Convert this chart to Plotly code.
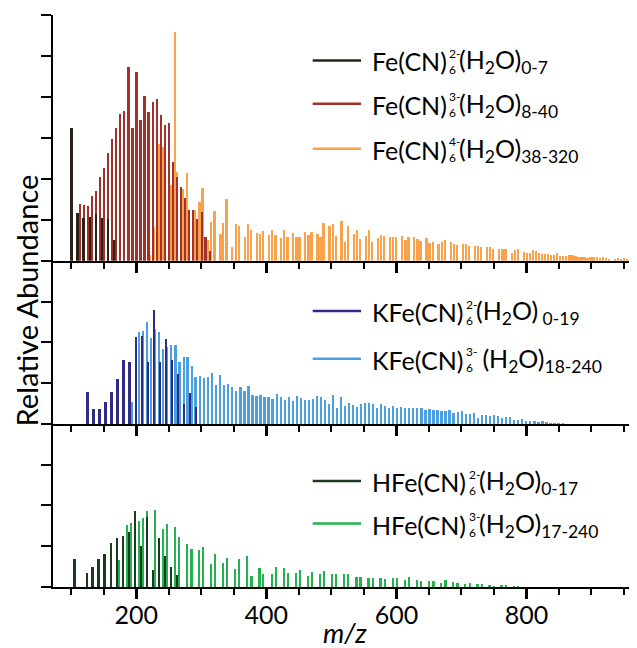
import plotly.graph_objects as go

# ---------------- data (m/z, relative abundance in tick units) ----------------
fe2_mz = [101.0, 110.2, 119.4, 129.2, 138.4, 147.6, 157.4, 166.6]
fe2_ab = [3.25, 1.17, 1.04, 1.07, 1.13, 1.05, 1.01, 0.50]

fe3_mz = [113.8, 120.0, 126.1, 132.3, 138.4, 144.6, 150.7, 157.4, 163.5, 169.7,
          175.8, 182.0, 188.7, 194.8, 201.0, 207.1, 213.3, 219.4, 226.1, 232.3,
          238.4, 244.6, 250.7, 256.9, 263.0, 269.2, 275.8, 282.0, 288.1, 294.3,
          301.0, 307.1, 313.3]
fe3_ab = [1.39, 1.37, 1.34, 1.57, 1.71, 2.04, 2.27, 2.63, 2.98, 3.24,
          3.59, 3.66, 4.74, 3.24, 4.62, 3.43, 4.03, 3.62, 3.87, 3.96,
          3.56, 3.32, 3.37, 2.41, 2.05, 1.79, 1.53, 1.23, 1.25, 1.02,
          1.20, 0.58, 0.23]

fe4_mz = [221.5, 227.1, 235.8, 241.5, 254.3, 260.0, 263.0, 272.3, 278.4, 291.2,
          297.4, 302.5, 311.2, 315.8, 320.5, 329.7, 334.3, 339.4, 348.1, 353.3,
          358.4, 367.1, 372.2, 376.9, 385.6, 390.2, 395.3, 404.6, 409.2, 414.3,
          423.0, 427.6, 432.8, 441.5, 446.6, 451.2, 460.0, 465.1, 469.7, 478.9,
          483.5, 488.1, 497.4, 502.5, 507.1, 515.8, 521.0, 525.6, 534.8, 539.4,
          544.0, 553.3, 557.9, 562.5, 571.7, 576.9, 581.5, 590.2, 595.3, 599.9,
          609.2, 614.3, 618.9, 627.6, 632.8, 637.4, 646.6, 651.2, 656.3, 665.1,
          670.2, 674.8, 684.0, 688.6, 693.3, 702.5, 707.6, 712.2, 721.0, 726.1,
          730.7, 739.9, 744.5, 749.2, 758.4, 763.6, 768.2, 777.9, 782.6, 787.7,
          796.9, 801.5, 806.1, 810.8, 815.4, 820.0, 824.6, 829.2, 833.8, 838.5,
          843.1, 847.7, 852.3, 856.9, 861.5, 866.7, 871.3, 875.9, 880.5, 885.1,
          889.7, 894.3, 899.0, 903.6, 908.7, 913.3, 917.9, 922.6, 927.2, 936.4,
          941.0, 945.6, 950.2, 954.9, 959.5, 964.1]
fe4_ab = [0.13, 0.83, 2.85, 2.78, 1.85, 5.58, 2.17, 1.75, 2.13, 1.24,
          1.44, 1.78, 0.50, 0.94, 1.21, 0.66, 0.92, 1.51, 0.33, 0.90,
          0.86, 0.57, 0.90, 0.74, 0.68, 0.65, 0.73, 0.62, 0.74, 0.63,
          0.56, 0.75, 0.59, 0.68, 0.57, 0.58, 0.70, 0.63, 0.70, 0.66,
          0.58, 0.93, 0.84, 0.89, 0.61, 0.98, 0.45, 0.85, 0.66, 0.74,
          0.54, 0.61, 0.74, 0.46, 0.56, 0.63, 0.60, 0.57, 0.57, 0.57,
          0.60, 0.50, 0.59, 0.57, 0.52, 0.47, 0.55, 0.44, 0.46, 0.41,
          0.45, 0.50, 0.46, 0.41, 0.39, 0.42, 0.42, 0.35, 0.37, 0.35,
          0.33, 0.34, 0.33, 0.29, 0.28, 0.28, 0.28, 0.20, 0.26, 0.28,
          0.22, 0.20, 0.20, 0.26, 0.23, 0.20, 0.17, 0.17, 0.16, 0.15,
          0.14, 0.20, 0.12, 0.12, 0.12, 0.15, 0.14, 0.12, 0.10, 0.10,
          0.10, 0.07, 0.10, 0.10, 0.08, 0.07, 0.09, 0.07, 0.03, 0.05,
          0.07, 0.05, 0.07, 0.05, 0.08, 0.04]

kfe2_mz = [125.6, 134.8, 144.0, 153.3, 162.5, 171.7, 181.0, 190.2, 199.9, 209.2,
           218.4, 227.6, 236.9, 246.1, 255.3, 264.6, 273.8, 283.0, 292.2]
kfe2_ab = [0.79, 0.38, 0.38, 0.54, 0.80, 1.11, 1.58, 1.52, 2.13, 2.16,
           1.52, 2.79, 1.52, 2.10, 1.58, 1.24, 0.50, 0.77, 0.43]

kfe3_mz = [193.3, 205.1, 211.2, 217.4, 223.5, 229.7, 235.8, 242.0, 248.1, 254.3,
           260.5, 267.1, 273.3, 279.4, 285.6, 291.7, 297.9, 304.6, 310.7, 316.9,
           323.0, 329.2, 335.3, 341.5, 347.6, 353.8, 360.5, 366.6, 372.8, 378.9,
           385.1, 391.2, 397.4, 403.5, 409.7, 416.3, 422.5, 428.7, 434.8, 441.0,
           447.1, 453.3, 459.4, 465.6, 471.7, 477.9, 484.5, 490.7, 496.9, 503.0,
           509.2, 515.3, 521.5, 527.6, 533.8, 539.9, 545.6, 551.8, 557.9, 564.1,
           570.7, 576.9, 583.1, 589.2, 595.4, 601.5, 607.7, 613.8, 620.0, 626.1,
           632.3, 639.0, 645.1, 651.3, 657.4, 663.6, 669.7, 675.9, 682.0, 688.2,
           694.8, 701.0, 707.2, 713.3, 719.5, 725.6, 731.8, 737.9, 744.1, 750.2,
           756.9, 763.0, 769.2, 775.4, 781.5, 787.7, 793.8, 800.0, 806.1, 812.8,
           819.0, 825.1, 831.3, 837.4, 843.6, 849.7, 856.4]
kfe3_ab = [0.55, 2.27, 2.29, 2.51, 2.12, 2.33, 2.27, 1.85, 1.89, 1.95,
           1.95, 1.52, 1.65, 1.65, 1.43, 1.15, 1.19, 1.13, 1.15, 1.25,
           0.97, 1.20, 0.97, 0.99, 0.91, 0.81, 0.91, 0.81, 0.93, 0.72,
           0.68, 0.72, 0.66, 0.66, 0.62, 0.73, 0.67, 0.60, 0.66, 0.57,
           0.68, 0.64, 0.60, 0.59, 0.63, 0.68, 0.67, 0.59, 0.50, 0.71,
           0.41, 0.66, 0.44, 0.52, 0.48, 0.42, 0.50, 0.52, 0.52, 0.49,
           0.41, 0.50, 0.44, 0.39, 0.45, 0.41, 0.43, 0.41, 0.41, 0.40,
           0.41, 0.41, 0.36, 0.37, 0.34, 0.34, 0.33, 0.32, 0.34, 0.28,
           0.31, 0.32, 0.24, 0.25, 0.27, 0.15, 0.22, 0.22, 0.21, 0.23,
           0.20, 0.16, 0.18, 0.18, 0.11, 0.11, 0.13, 0.08, 0.09, 0.07,
           0.06, 0.07, 0.05, 0.04, 0.03, 0.02, 0.02]

hfe2_mz = [105.6, 124.6, 133.3, 142.5, 151.7, 161.5, 170.7, 179.9, 189.2, 198.4,
           207.6, 216.9, 226.1, 235.3, 244.6, 253.8, 263.0]
hfe2_ab = [0.68, 0.35, 0.50, 0.69, 0.81, 1.07, 1.21, 1.26, 1.36, 1.87,
           1.00, 1.73, 0.41, 1.21, 0.75, 0.50, 0.30]

hfe3_mz = [173.8, 186.1, 192.3, 204.6, 210.7, 216.9, 229.2, 241.5, 247.6, 259.9,
           266.1, 278.4, 285.1, 296.9, 303.0, 315.3, 322.0, 333.8, 339.9, 352.2,
           358.9, 371.2, 377.4, 389.7, 395.8, 408.7, 414.8, 427.1, 433.3, 446.1,
           452.2, 464.6, 470.7, 483.0, 489.2, 501.5, 507.6, 519.9, 526.1, 538.9,
           545.1, 557.4, 564.1, 575.9, 582.5, 594.8, 601.5, 613.3, 620.0, 631.8,
           638.4, 650.2, 657.4, 668.7, 675.9, 687.7, 694.3, 706.1, 713.3, 725.1,
           731.8, 743.6, 750.7, 762.0, 769.2, 781.0, 787.7]
hfe3_ab = [0.67, 1.52, 1.58, 1.63, 1.70, 1.87, 1.89, 1.42, 1.54, 1.48,
           1.23, 1.06, 0.93, 0.90, 0.98, 0.57, 0.80, 0.59, 0.72, 0.44,
           0.69, 0.76, 0.27, 0.46, 0.33, 0.33, 0.49, 0.47, 0.34, 0.34,
           0.41, 0.28, 0.36, 0.31, 0.39, 0.31, 0.33, 0.33, 0.32, 0.24,
           0.25, 0.22, 0.22, 0.23, 0.20, 0.22, 0.22, 0.18, 0.24, 0.17,
           0.16, 0.15, 0.14, 0.11, 0.17, 0.12, 0.11, 0.08, 0.09, 0.08,
           0.07, 0.06, 0.03, 0.04, 0.05, 0.02, 0.02]

x_tick_vals = [200, 400, 600, 800]
x_tick_text = ["200", "400", "600", "800"]

# ---------------- styling ----------------
C_FE2, C_FE3, C_FE4 = "#2b2119", "#a3312a", "#f9a24c"
C_K2, C_K3 = "#302c86", "#4d9fe0"
C_H2, C_H3 = "#1c3a22", "#24b24e"

OFF = 8                      # page body margin of the html page
W, H = 637 - OFF, 648 - OFF
# plot area in window pixels
L_PX, R_PX, T_PX, B_PX = 53, 637, 14.5, 586.7
FONT = "Lato, Liberation Sans, Arial, sans-serif"
BARW = 2.8
XR = [72, 970]


def fx(px):
    return (px - L_PX) / (R_PX - L_PX)


def fy(py):
    return (B_PX - py) / (B_PX - T_PX)


d_bot = [0, fy(423.6)]
d_mid = [fy(423.6), fy(260.3)]
d_top = [fy(260.3), 1]

fig = go.Figure()


def add_bars(x, y, color, xa, ya):
    fig.add_trace(go.Bar(x=x, y=y, width=BARW, marker=dict(color=color, line=dict(width=0)),
                         xaxis=xa, yaxis=ya, showlegend=False, hoverinfo="x+y"))


add_bars(fe4_mz, fe4_ab, C_FE4, "x3", "y3")
add_bars(fe3_mz, fe3_ab, C_FE3, "x3", "y3")
add_bars(fe2_mz, fe2_ab, C_FE2, "x3", "y3")
add_bars(kfe3_mz, kfe3_ab, C_K3, "x2", "y2")
add_bars(kfe2_mz, kfe2_ab, C_K2, "x2", "y2")
add_bars(hfe3_mz, hfe3_ab, C_H3, "x", "y")
add_bars(hfe2_mz, hfe2_ab, C_H2, "x", "y")

xcommon = dict(range=XR, autorange=False, showgrid=False, zeroline=False, showline=True,
               linecolor="black", linewidth=2, ticks="outside", tickmode="array",
               tickvals=x_tick_vals, ticklen=10, tickwidth=3, tickcolor="black",
               automargin=False,
               minor=dict(ticks="outside", dtick=50, tick0=0, ticklen=6, tickwidth=1.5,
                          tickcolor="black", showgrid=False))

ycommon = dict(showgrid=False, zeroline=False, showline=True, linecolor="black", linewidth=2,
               ticks="outside", ticklen=10, tickwidth=2, tickcolor="black", dtick=1,
               showticklabels=False, automargin=False, fixedrange=True)

fig.update_layout(
    width=W, height=H,
    margin=dict(l=L_PX - OFF, r=637 - R_PX, t=T_PX - OFF, b=648 - B_PX, autoexpand=False),
    paper_bgcolor="white", plot_bgcolor="white",
    barmode="overlay", bargap=0,
    font=dict(family=FONT, color="black"),
    xaxis=dict(xcommon, domain=[0, 1], anchor="y", ticktext=x_tick_text,
               tickfont=dict(size=25, family=FONT), ticklabelstandoff=-5),
    xaxis2=dict(xcommon, domain=[0, 1], anchor="y2", showticklabels=False),
    xaxis3=dict(xcommon, domain=[0, 1], anchor="y3", showticklabels=False),
    yaxis=dict(ycommon, domain=d_bot, range=[0, 4], anchor="x"),
    yaxis2=dict(ycommon, domain=d_mid, range=[0, 4], anchor="x2"),
    yaxis3=dict(ycommon, domain=d_top, range=[0, 6], anchor="x3"),
)

# axis titles
fig.add_annotation(text="Relative Abundance", xref="paper", yref="paper",
                   x=fx(26), y=fy(300), textangle=-90, showarrow=False,
                   font=dict(size=29, family=FONT), xanchor="center", yanchor="middle")
fig.add_annotation(text="<i>m/z</i>", xref="paper", yref="paper",
                   x=fx(345), y=fy(632), showarrow=False, borderpad=0,
                   font=dict(size=27, family=FONT), xanchor="center", yanchor="middle")

# legends
legend_rows = [
    # (y_px, color, main, sup, rest)
    (60.0, C_FE2, "Fe(CN)", "2-", "(H<sub>2</sub>O)<sub>0-7</sub>"),
    (103.3, C_FE3, "Fe(CN)", "3-", "(H<sub>2</sub>O)<sub>8-40</sub>"),
    (148.3, C_FE4, "Fe(CN)", "4-", "(H<sub>2</sub>O)<sub>38-320</sub>"),
    (310.7, C_K2, "KFe(CN)", "2-", "(H<sub>2</sub>O)<sub> 0-19</sub>"),
    (358.3, C_K3, "KFe(CN)", "3-", " (H<sub>2</sub>O)<sub>18-240</sub>"),
    (480.7, C_H2, "HFe(CN)", "2-", "(H<sub>2</sub>O)<sub>0-17</sub>"),
    (523.3, C_H3, "HFe(CN)", "3-", "(H<sub>2</sub>O)<sub>17-240</sub>"),
]
X_TXT = 371
FS = 25
MAIN_W = {"Fe(CN)": 76, "KFe(CN)": 93, "HFe(CN)": 96}
for (ypx, col, main, sup, rest) in legend_rows:
    xm = X_TXT + MAIN_W[main]
    fig.add_shape(type="line", xref="paper", yref="paper", x0=fx(312.7), x1=fx(361),
                  y0=fy(ypx), y1=fy(ypx), line=dict(color=col, width=2.5))
    fig.add_annotation(text=main, xref="paper", yref="paper", x=fx(X_TXT), y=fy(ypx + 1),
                       xanchor="left", yanchor="middle", showarrow=False, borderpad=0,
                       font=dict(size=FS, family=FONT))
    fig.add_annotation(text=sup, xref="paper", yref="paper", x=fx(xm + 1), y=fy(ypx - 7),
                       xanchor="left", yanchor="middle", showarrow=False, borderpad=0,
                       font=dict(size=12, family=FONT))
    fig.add_annotation(text="6", xref="paper", yref="paper", x=fx(xm + 1), y=fy(ypx + 9),
                       xanchor="left", yanchor="middle", showarrow=False, borderpad=0,
                       font=dict(size=12, family=FONT))
    fig.add_annotation(text=rest, xref="paper", yref="paper", x=fx(xm + 11), y=fy(ypx + 1),
                       xanchor="left", yanchor="middle", showarrow=False, borderpad=0,
                       font=dict(size=FS, family=FONT))

fig.write_html("out.html")
